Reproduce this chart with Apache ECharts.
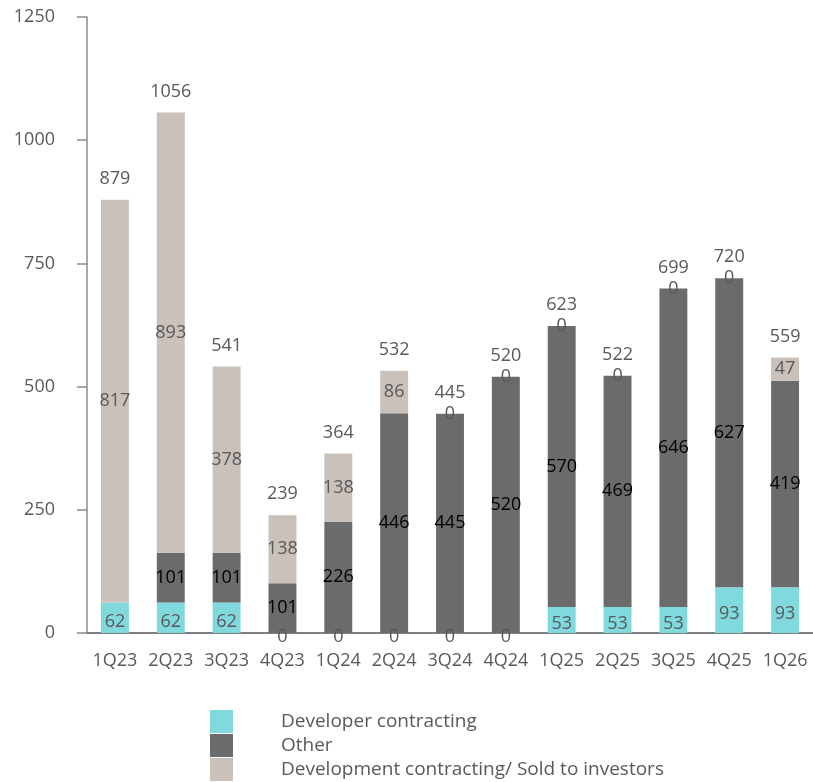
<!DOCTYPE html>
<html>
<head>
<meta charset="utf-8">
<script src="https://cdn.jsdelivr.net/npm/echarts@6/dist/echarts.min.js"></script>
<style>html,body{margin:0;padding:0;background:#fff}#c{width:813px;height:782px}</style>
</head>
<body>
<div id="c"></div>
<script>
const categories = ['1Q23','2Q23','3Q23','4Q23','1Q24','2Q24','3Q24','4Q24','1Q25','2Q25','3Q25','4Q25','1Q26'];
const developerContracting = [62, 62, 62, 0, 0, 0, 0, 0, 53, 53, 53, 93, 93];
const other = [null, 101, 101, 101, 226, 446, 445, 520, 570, 469, 646, 627, 419];
const soldToInvestors = [817, 893, 378, 138, 138, 86, 0, 0, 0, 0, 0, 0, 47];
const totals = [879, 1056, 541, 239, 364, 532, 445, 520, 623, 522, 699, 720, 559];
const yTicks = [0, 250, 500, 750, 1000, 1250];
const seriesNames = ['Developer contracting', 'Other', 'Development contracting/ Sold to investors'];

const FONT = 'Open Sans';
const GRAY = '#595959';
const chart = echarts.init(document.getElementById('c'));
const legends = seriesNames.map((n, i) => ({
  orient: 'vertical', left: 210, top: 710 + i * 24, padding: 0,
  itemWidth: 23, itemHeight: 23, itemGap: 0,
  icon: 'rect',
  data: [n],
  textStyle: { fontFamily: FONT, fontSize: 19, color: GRAY, padding: [2, 0, 0, 43] }
}));
chart.setOption({
  animation: false,
  textStyle: { fontFamily: FONT },
  grid: { left: 87, right: -2, top: 17, bottom: 149 },
  legend: legends,
  xAxis: {
    type: 'category', data: categories,
    axisLine: { lineStyle: { color: '#7f7f7f', width: 2 } },
    axisTick: { show: false },
    axisLabel: { interval: 0, fontFamily: FONT, fontSize: 18, color: GRAY, margin: 19 }
  },
  yAxis: {
    type: 'value', min: yTicks[0], max: yTicks[yTicks.length - 1], interval: 250,
    splitLine: { show: false },
    axisLine: { show: true, lineStyle: { color: '#8c8c8c', width: 1.5 } },
    axisTick: { show: true, length: 10, lineStyle: { color: '#8c8c8c', width: 1.5 } },
    axisLabel: { fontFamily: FONT, fontSize: 18, color: GRAY, margin: 32, formatter: v => String(v) }
  },
  series: [
    {
      name: seriesNames[0], type: 'bar', stack: 'a', barWidth: '50%',
      data: developerContracting,
      itemStyle: { color: '#80d9dd' },
      label: { show: true, position: 'inside', fontFamily: FONT, fontSize: 18, color: GRAY, offset: [0, 4] }
    },
    {
      name: seriesNames[1], type: 'bar', stack: 'a',
      data: other,
      itemStyle: { color: '#6b6b6b' },
      label: { show: true, position: 'inside', fontFamily: FONT, fontSize: 18, color: '#000' }
    },
    {
      name: seriesNames[2], type: 'bar', stack: 'a',
      data: soldToInvestors,
      itemStyle: { color: '#c9c1ba' },
      label: { show: true, position: 'inside', fontFamily: FONT, fontSize: 18, color: GRAY }
    },
    {
      name: 'Total', type: 'bar', stack: 'a',
      data: totals.map(() => 0),
      itemStyle: { color: 'transparent' },
      label: {
        show: true, position: 'top', distance: 12, fontFamily: FONT, fontSize: 18, color: GRAY,
        formatter: p => totals[p.dataIndex]
      }
    }
  ]
});
</script>
</body>
</html>
